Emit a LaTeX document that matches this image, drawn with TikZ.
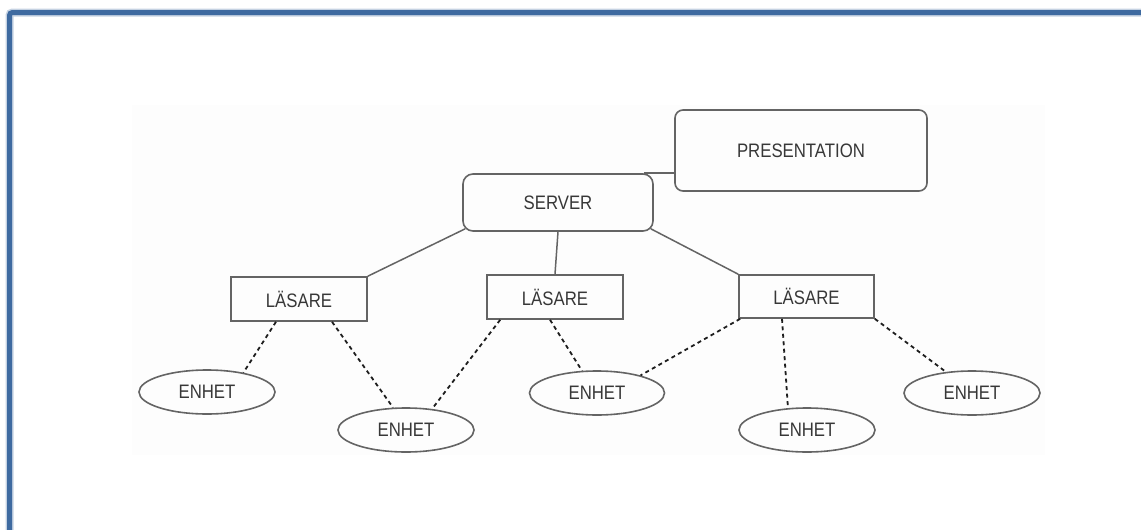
\documentclass[tikz,border=0pt]{standalone}
\usepackage{fontspec}
\setmainfont[FakeStretch=0.86]{Liberation Sans}
\usetikzlibrary{shapes.geometric}
\definecolor{frameblue}{RGB}{62,106,160}
\definecolor{ln}{RGB}{100,100,100}
\definecolor{txt}{RGB}{55,55,55}
\definecolor{dsh}{RGB}{30,30,30}
\tikzset{
  lbl/.style={inner sep=0pt, text=txt, font=\fontsize{19.5}{20}\selectfont},
  rbox/.style={lbl, draw=ln, line width=1.6pt, rounded corners=8pt},
  sbox/.style={lbl, draw=ln, line width=1.6pt, minimum width=136pt, minimum height=44pt},
  ebox/.style={lbl, ellipse, draw=ln, line width=1.6pt, minimum width=136pt, minimum height=44pt},
  solidln/.style={draw=ln, line width=1.5pt},
  dashln/.style={draw=dsh, line width=1.8pt, dash pattern=on 4pt off 3.5pt}
}
\begin{document}
\begin{tikzpicture}[x=1pt,y=-1pt]
\useasboundingbox (0,0) rectangle (1141,530);
\fill[black!0.7] (132,105) rectangle (1045,455);
\begin{scope}
  \clip (0,0) rectangle (1141,530);
  \draw[frameblue!30, line width=8pt, rounded corners=3pt] (9.5,12.5) rectangle (1170,570);
  \draw[frameblue, line width=5pt, rounded corners=3pt] (9.5,12.5) rectangle (1170,570);
\end{scope}

\node[rbox, minimum width=252pt, minimum height=81pt] (pres) at (801,150.5) {PRESENTATION\hspace{16pt}};
\node[rbox, rounded corners=10pt, minimum width=190pt, minimum height=57pt] (server) at (558,202.5) {SERVER};

\node[sbox] (L1) at (299,299) {LÄSARE};
\node[sbox] (L2) at (555,297) {LÄSARE};
\node[sbox, minimum width=135pt, minimum height=43pt] (L3) at (806.5,296.5) {LÄSARE};

\node[ebox] (E1) at (207,392) {ENHET};
\node[ebox] (E2) at (406,430) {ENHET};
\node[ebox, minimum width=135pt] (E3) at (597,393) {ENHET};
\node[ebox] (E4) at (807,430) {ENHET};
\node[ebox] (E5) at (972,393) {ENHET};

\draw[solidln] ([xshift=-10pt]server.north east) -- (server.north east -| pres.west);
\draw[solidln] ([shift={(3,-3)}]server.south west) -- (L1.north east);
\draw[solidln] (server.south) -- (L2.north);
\draw[solidln] ([shift={(-3,-3)}]server.south east) -- (L3.north west);

\draw[dashln] ([xshift=-23pt]L1.south) -- (E1.28);
\draw[dashln] ([xshift=33pt]L1.south) -- (E2.120);
\draw[dashln] ([xshift=14pt]L2.south west) -- (E2.39);
\draw[dashln] ([xshift=-5pt]L2.south) -- (E3.124);
\draw[dashln] ([xshift=2pt]L3.south west) -- (E3.22);
\draw[dashln] ([xshift=-24.5pt]L3.south) -- (E4.131);
\draw[dashln] (L3.south east) -- (E5.141);
\end{tikzpicture}
\end{document}
